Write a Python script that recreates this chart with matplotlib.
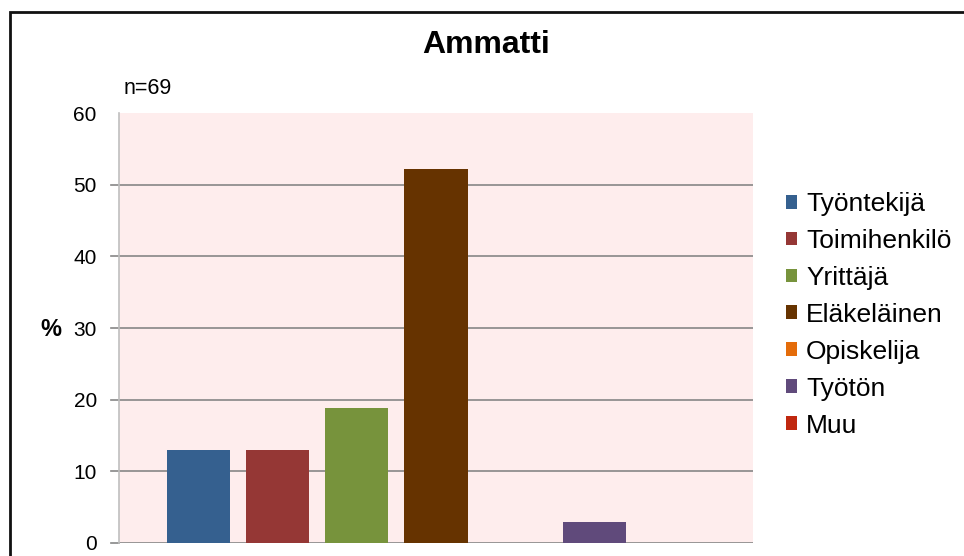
import matplotlib.pyplot as plt
from matplotlib.patches import Rectangle, Patch

categories = ['Työntekijä', 'Toimihenkilö', 'Yrittäjä', 'Eläkeläinen',
              'Opiskelija', 'Työtön', 'Muu']
percent = [13.0, 13.0, 18.8, 52.2, 0.0, 2.9, 0.0]
colours = ['#35608f', '#953735', '#77933c', '#663300',
           '#e46c0a', '#604a7b', '#c0280f']
yticks = [0, 10, 20, 30, 40, 50, 60]

plt.rcParams['font.family'] = ['Liberation Sans', 'DejaVu Sans']

W, H = 964, 556
fig = plt.figure(figsize=(W / 100, H / 100), dpi=100)

# outer chart frame (right and bottom edges fall outside the image)
fig.patches.append(Rectangle((10 / W, -0.1), 1.1, (H - 12) / H + 0.1,
                             transform=fig.transFigure, fill=False,
                             edgecolor='#111111', linewidth=2))

ax = fig.add_axes([119 / W, 13 / H, 634 / W, 430 / H])
ax.set_facecolor('#feeded')

for y in yticks[:-1]:
    ax.axhline(y, color='#868686', lw=1.2, zorder=1)
    ax.plot([-1.1, -1], [y, y], color='#868686', lw=1.2, clip_on=False)

x = range(len(categories))
ax.bar(x, percent, width=0.8, color=colours, zorder=2)

ax.set_xlim(-1, 7)
ax.set_ylim(0, 60)
ax.set_xticks([])
ax.set_yticks(yticks)
ax.tick_params(axis='y', length=0, pad=16, labelsize=15)
for s in ['top', 'right', 'bottom']:
    ax.spines[s].set_visible(False)
ax.spines['left'].set_color('#bfbfbf')
ax.spines['left'].set_linewidth(1.2)

fig.text(51 / W, 1 - 329 / H, '%', ha='center', va='center',
         fontsize=17, fontweight='bold')
fig.text(486 / W, 1 - 45 / H, 'Ammatti', ha='center', va='center',
         fontsize=23, fontweight='bold')
fig.text(124 / W, 1 - 89 / H, 'n=69', ha='left', va='center', fontsize=15.5)

handles = [Patch(facecolor=c, label=l) for c, l in zip(colours, categories)]
fig.legend(handles=handles, loc='upper left', bbox_to_anchor=(786 / W, 1 - 192 / H),
           frameon=False, fontsize=19, handlelength=0.43, handleheight=0.43,
           handletextpad=0.33, labelspacing=0.49, borderpad=0, borderaxespad=0)

fig.savefig('out.png', dpi=100)
